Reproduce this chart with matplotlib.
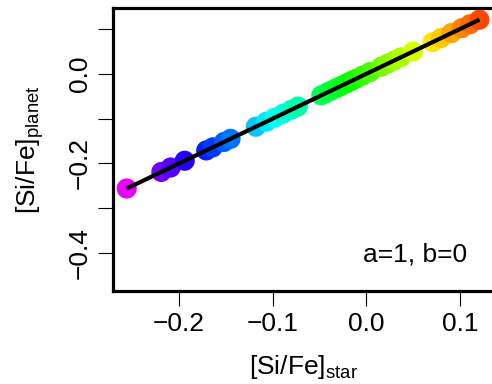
import matplotlib
matplotlib.use("Agg")
import matplotlib.pyplot as plt
from matplotlib.colors import Normalize
import numpy as np

plt.rcParams['font.family'] = ['Liberation Sans', 'DejaVu Sans']
plt.rcParams['mathtext.fontset'] = 'custom'
plt.rcParams['mathtext.rm'] = 'Liberation Sans'

# data
si_fe_star = [-0.256, -0.219, -0.209, -0.194, -0.171, -0.164, -0.152, -0.145,
              -0.118, -0.107, -0.098, -0.089, -0.080, -0.073,
              -0.048, -0.043, -0.038, -0.032, -0.027, -0.021, -0.016, -0.011,
              -0.004, 0.004, 0.016, 0.023, 0.030, 0.037, 0.050,
              0.071, 0.080, 0.091, 0.102, 0.111, 0.121]
si_fe_planet = [-0.256, -0.219, -0.209, -0.194, -0.171, -0.164, -0.152, -0.145,
                -0.118, -0.107, -0.098, -0.089, -0.080, -0.073,
                -0.048, -0.043, -0.038, -0.032, -0.027, -0.021, -0.016, -0.011,
                -0.004, 0.004, 0.016, 0.023, 0.030, 0.037, 0.050,
                0.071, 0.080, 0.091, 0.102, 0.111, 0.121]
fit_a = 1
fit_b = 0
x_ticks = [-0.2, -0.1, 0.0, 0.1]
y_ticks_labeled = [-0.4, -0.2, 0.0]
y_ticks_unlabeled = [-0.3, -0.1, 0.1]

fig = plt.figure(figsize=(4.92, 3.84), dpi=100)
ax = fig.add_axes([0.229, 0.242, 0.774, 0.737])

xs = np.array(si_fe_star)
ys = np.array(si_fe_planet)
ax.scatter(xs, ys, c=xs, cmap='hsv_r', norm=Normalize(vmin=-0.338, vmax=0.145),
           s=210, edgecolors='none', zorder=2)
xl = np.array([xs.min(), xs.max()])
ax.plot(xl, fit_a * xl + fit_b, color='black', lw=3.0, zorder=3, solid_capstyle='butt')

ax.set_xlim(-0.271, 0.136)
ax.set_ylim(-0.485, 0.147)

ax.set_xticks(x_ticks)
ax.set_xticklabels(['\u22120.2', '\u22120.1', '0.0', '0.1'])
ax.set_yticks(y_ticks_labeled)
ax.set_yticklabels(['\u22120.4', '\u22120.2', '0.0'], rotation=90, va='center')
ax.set_yticks(y_ticks_unlabeled, minor=True)

ax.tick_params(axis='both', which='both', direction='out', length=11, width=0.8,
               labelsize=19, pad=4)
for sp in ax.spines.values():
    sp.set_linewidth(2.3)

ax.set_xlabel('[Si/Fe]$_{\\rm star}$', fontsize=19, labelpad=12.5)
ax.set_ylabel('[Si/Fe]$_{\\rm planet}$', fontsize=19, labelpad=16)

ax.text(0.052, -0.404, 'a=1, b=0', fontsize=19, ha='center', va='center')

fig.savefig('out.png', dpi=100)
